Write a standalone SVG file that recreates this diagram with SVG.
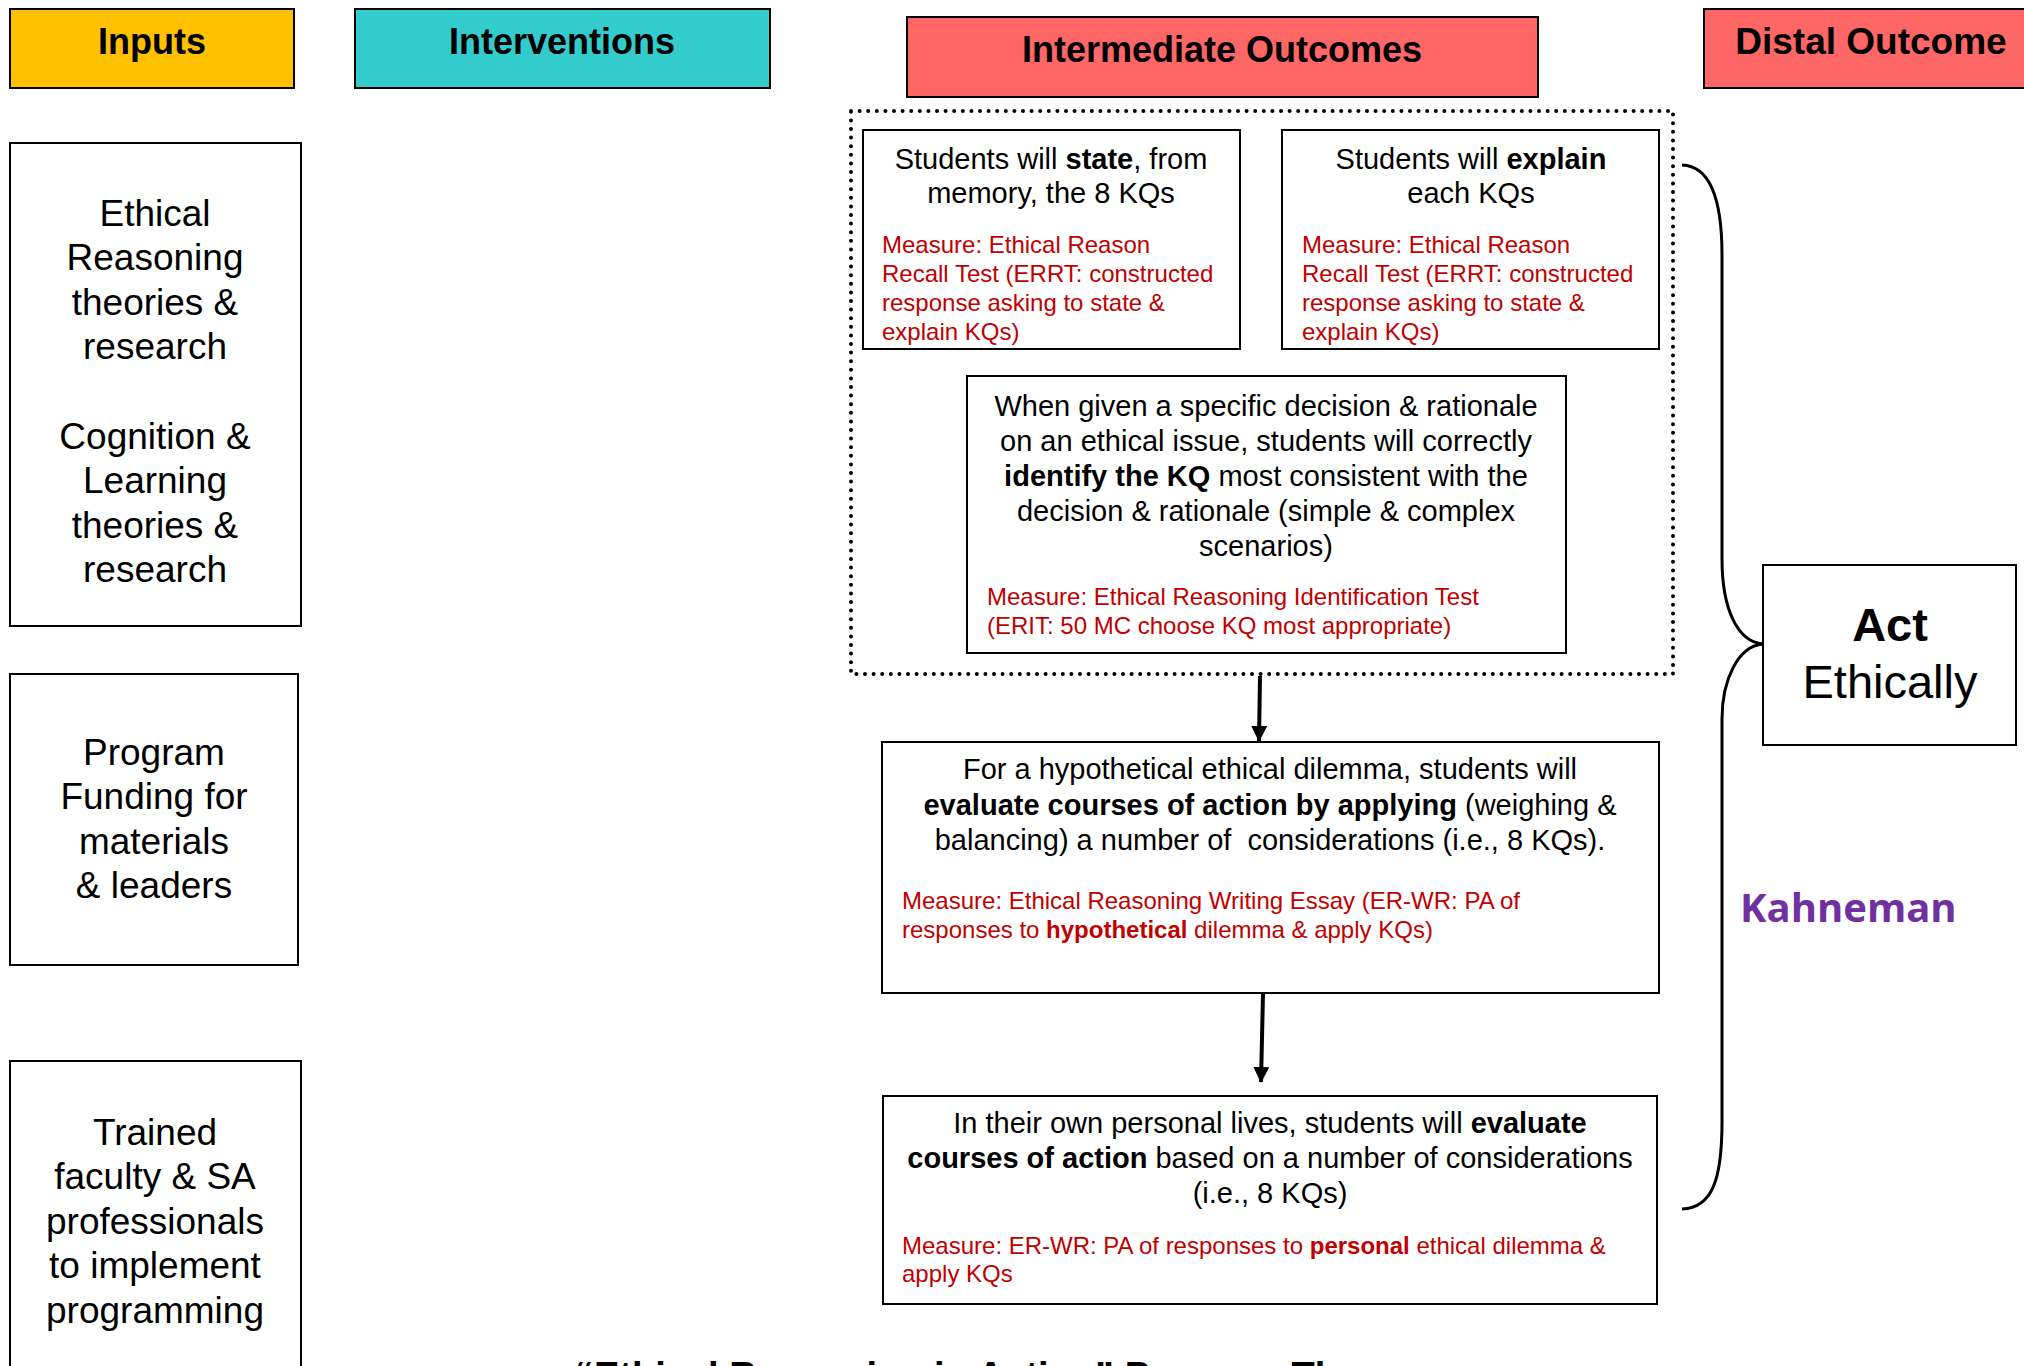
<svg xmlns="http://www.w3.org/2000/svg" width="2024" height="1366" viewBox="0 0 2024 1366">
  <style>
    .box { fill: #ffffff; stroke: #000000; stroke-width: 2; }
    .t { font-family: "Liberation Sans", Arial, sans-serif; fill: #000000; }
    .hdr { font-size: 36px; font-weight: bold; text-anchor: middle; }
    .inp { font-size: 37px; text-anchor: middle; }
    .oc { font-size: 29px; text-anchor: middle; }
    .ms { font-size: 24px; fill: #C00000; }
    .b { font-weight: bold; }
    .link { fill: none; stroke: #000000; stroke-width: 4; }
  </style>
  <defs>
    <marker id="head" markerUnits="userSpaceOnUse" markerWidth="18" markerHeight="18" refX="15" refY="8" orient="auto">
      <path d="M0,0 L16,8 L0,16 Z" fill="#000000"/>
    </marker>
  </defs>
  <rect width="2024" height="1366" fill="#ffffff"/>

  <!-- column headers -->
  <g id="hdr-inputs">
    <rect x="10" y="9" width="284" height="79" fill="#FFC000" stroke="#000" stroke-width="2"/>
    <text class="t hdr" x="152" y="54">Inputs</text>
  </g>
  <g id="hdr-interventions">
    <rect x="355" y="9" width="415" height="79" fill="#33CCCC" stroke="#000" stroke-width="2"/>
    <text class="t hdr" x="562" y="54">Interventions</text>
  </g>
  <g id="hdr-intermediate">
    <rect x="907" y="17" width="631" height="80" fill="#FF6666" stroke="#000" stroke-width="2"/>
    <text class="t hdr" x="1222" y="62">Intermediate Outcomes</text>
  </g>
  <g id="hdr-distal">
    <rect x="1704" y="9" width="330" height="79" fill="#FF6666" stroke="#000" stroke-width="2"/>
    <text class="t hdr" x="1871" y="54" style="font-size:37px">Distal Outcome</text>
  </g>

  <!-- inputs -->
  <g id="in-theories">
    <rect class="box" x="10" y="143" width="291" height="483"/>
    <text class="t inp" x="155" y="226">Ethical</text>
    <text class="t inp" x="155" y="270">Reasoning</text>
    <text class="t inp" x="155" y="315">theories &amp;</text>
    <text class="t inp" x="155" y="359">research</text>
    <text class="t inp" x="155" y="449">Cognition &amp;</text>
    <text class="t inp" x="155" y="493">Learning</text>
    <text class="t inp" x="155" y="538">theories &amp;</text>
    <text class="t inp" x="155" y="582">research</text>
  </g>
  <g id="in-funding">
    <rect class="box" x="10" y="674" width="288" height="291"/>
    <text class="t inp" x="154" y="765">Program</text>
    <text class="t inp" x="154" y="809">Funding for</text>
    <text class="t inp" x="154" y="854">materials</text>
    <text class="t inp" x="154" y="898">&amp; leaders</text>
  </g>
  <g id="in-staff">
    <rect class="box" x="10" y="1061" width="291" height="330"/>
    <text class="t inp" x="155" y="1145">Trained</text>
    <text class="t inp" x="155" y="1189">faculty &amp; SA</text>
    <text class="t inp" x="155" y="1234">professionals</text>
    <text class="t inp" x="155" y="1278">to implement</text>
    <text class="t inp" x="155" y="1323">programming</text>
  </g>

  <!-- knowledge-level outcomes grouped in a dotted frame -->
  <g id="kq-group">
    <rect x="851" y="111" width="822" height="563" fill="none" stroke="#000" stroke-width="4" stroke-dasharray="0 8.6" stroke-linecap="round"/>
  </g>
  <g id="oc-state">
    <rect class="box" x="863" y="130" width="377" height="219"/>
    <text class="t oc" x="1051" y="169">Students will <tspan class="b">state</tspan>, from</text>
    <text class="t oc" x="1051" y="203">memory, the 8 KQs</text>
    <text class="t ms" x="882" y="253">Measure: Ethical Reason</text>
    <text class="t ms" x="882" y="282">Recall Test (ERRT: constructed</text>
    <text class="t ms" x="882" y="311">response asking to state &amp;</text>
    <text class="t ms" x="882" y="340">explain KQs)</text>
  </g>
  <g id="oc-explain">
    <rect class="box" x="1282" y="130" width="377" height="219"/>
    <text class="t oc" x="1471" y="169">Students will <tspan class="b">explain</tspan></text>
    <text class="t oc" x="1471" y="203">each KQs</text>
    <text class="t ms" x="1302" y="253">Measure: Ethical Reason</text>
    <text class="t ms" x="1302" y="282">Recall Test (ERRT: constructed</text>
    <text class="t ms" x="1302" y="311">response asking to state &amp;</text>
    <text class="t ms" x="1302" y="340">explain KQs)</text>
  </g>
  <g id="oc-identify">
    <rect class="box" x="967" y="376" width="599" height="277"/>
    <text class="t oc" x="1266" y="416">When given a specific decision &amp; rationale</text>
    <text class="t oc" x="1266" y="451">on an ethical issue, students will correctly</text>
    <text class="t oc" x="1266" y="486"><tspan class="b">identify the KQ</tspan> most consistent with the</text>
    <text class="t oc" x="1266" y="521">decision &amp; rationale (simple &amp; complex</text>
    <text class="t oc" x="1266" y="556">scenarios)</text>
    <text class="t ms" x="987" y="605">Measure: Ethical Reasoning Identification Test</text>
    <text class="t ms" x="987" y="634">(ERIT: 50 MC choose KQ most appropriate)</text>
  </g>

  <!-- applied outcomes -->
  <g id="oc-hypothetical">
    <rect class="box" x="882" y="742" width="777" height="251"/>
    <text class="t oc" x="1270" y="779">For a hypothetical ethical dilemma, students will</text>
    <text class="t oc" x="1270" y="815"><tspan class="b">evaluate courses of action by applying</tspan> (weighing &amp;</text>
    <text class="t oc" x="1270" y="850" xml:space="preserve">balancing) a number of  considerations (i.e., 8 KQs).</text>
    <text class="t ms" x="902" y="909">Measure: Ethical Reasoning Writing Essay (ER-WR: PA of</text>
    <text class="t ms" x="902" y="938">responses to <tspan class="b">hypothetical</tspan> dilemma &amp; apply KQs)</text>
  </g>
  <g id="oc-personal">
    <rect class="box" x="883" y="1096" width="774" height="208"/>
    <text class="t oc" x="1270" y="1133">In their own personal lives, students will <tspan class="b">evaluate</tspan></text>
    <text class="t oc" x="1270" y="1168"><tspan class="b">courses of action</tspan> based on a number of considerations</text>
    <text class="t oc" x="1270" y="1203">(i.e., 8 KQs)</text>
    <text class="t ms" x="902" y="1254">Measure: ER-WR: PA of responses to <tspan class="b">personal</tspan> ethical dilemma &amp;</text>
    <text class="t ms" x="902" y="1282">apply KQs</text>
  </g>

  <!-- distal outcome -->
  <g id="distal-act">
    <rect class="box" x="1763" y="565" width="253" height="180"/>
    <text class="t" x="1890" y="641" text-anchor="middle" font-size="47" font-weight="bold">Act</text>
    <text class="t" x="1890" y="698" text-anchor="middle" font-size="47">Ethically</text>
  </g>
  <g id="note-kahneman">
    <text x="1740" y="922" font-family="'Open Sans', 'DejaVu Sans', sans-serif" font-size="40" font-weight="bold" fill="#7030A0">Kahneman</text>
  </g>

  <!-- connectors -->
  <g id="connectors">
    <line class="link" x1="1260" y1="676" x2="1259" y2="741" marker-end="url(#head)"/>
    <line class="link" x1="1263" y1="994" x2="1261" y2="1082" marker-end="url(#head)"/>
    <path id="brace" d="M1682,165 C1710,166 1722,200 1722,255 L1722,559 C1722,610 1738,642 1763,644 C1738,646 1722,680 1722,719 L1722,1122 C1722,1180 1712,1208 1682,1209" fill="none" stroke="#000" stroke-width="3"/>
  </g>

  <!-- title along the lower edge -->
  <text class="t" x="575" y="1389" font-size="38" font-weight="bold">“Ethical Reasoning in Action” Program Theory</text>
</svg>
